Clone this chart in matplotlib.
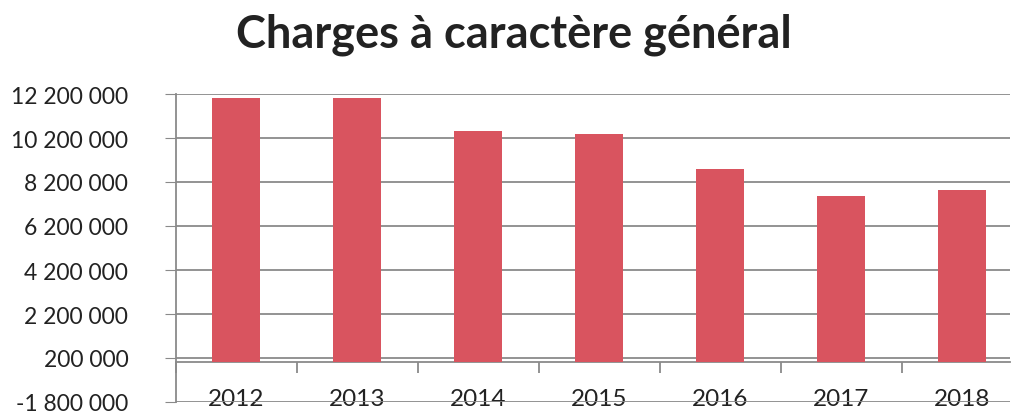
import matplotlib.pyplot as plt
import numpy as np

plt.rcParams['font.family'] = ['Lato', 'DejaVu Sans']

years = ['2012', '2013', '2014', '2015', '2016', '2017', '2018']
charges = [12010000, 12000000, 10530000, 10360000, 8770000, 7570000, 7840000]
y_ticks = [-1800000, 200000, 2200000, 4200000, 6200000, 8200000, 10200000, 12200000]

bar_color = '#d9545f'
grid_color = '#8a8a8a'


def fmt(v):
    s = '{:,}'.format(abs(v)).replace(',', ' ')
    return '-' + s if v < 0 else s


fig = plt.figure(figsize=(10.14, 4.14), dpi=100)
ax = fig.add_axes([175.5 / 1014, 11 / 414, (1010 - 175.5) / 1014, 308 / 414])

x = np.arange(len(years))
ax.bar(x, charges, width=0.39, color=bar_color, zorder=3)

ax.set_ylim(y_ticks[0], y_ticks[-1])
ax.set_xlim(-0.5, -0.5 + (1010 - 175.5) / 121)
ax.set_yticks(y_ticks)
ax.set_yticklabels([fmt(v) for v in y_ticks], fontsize=16.5, color='#222222')
ax.yaxis.grid(True, color=grid_color, linewidth=1.3, zorder=0)
ax.tick_params(axis='y', direction='out', length=8, color=grid_color, pad=26)

ax.set_xticks(x)
ax.set_xticklabels(years, fontsize=17.5, color='#222222')
ax.tick_params(axis='x', length=0, pad=-10)

for side in ['top', 'right', 'bottom']:
    ax.spines[side].set_visible(False)
ax.spines['left'].set_color(grid_color)
ax.spines['left'].set_linewidth(1.3)

# category axis crossing at zero, ticks between categories
lo, hi = ax.get_ylim()
sec = ax.secondary_xaxis((0 - lo) / (hi - lo))
sec.set_xticks(np.arange(len(years) + 1) - 0.5)
sec.set_xticklabels([])
sec.tick_params(direction='out', length=8, color=grid_color, width=1.3)
sec.spines['bottom'].set_color(grid_color)
sec.spines['bottom'].set_linewidth(1.3)

fig.text(0.507, 1 - 47 / 414, 'Charges à caractère général', ha='center', va='baseline',
         fontsize=32.5, fontweight='bold', color='#222222')

fig.savefig('out.png', dpi=100)
